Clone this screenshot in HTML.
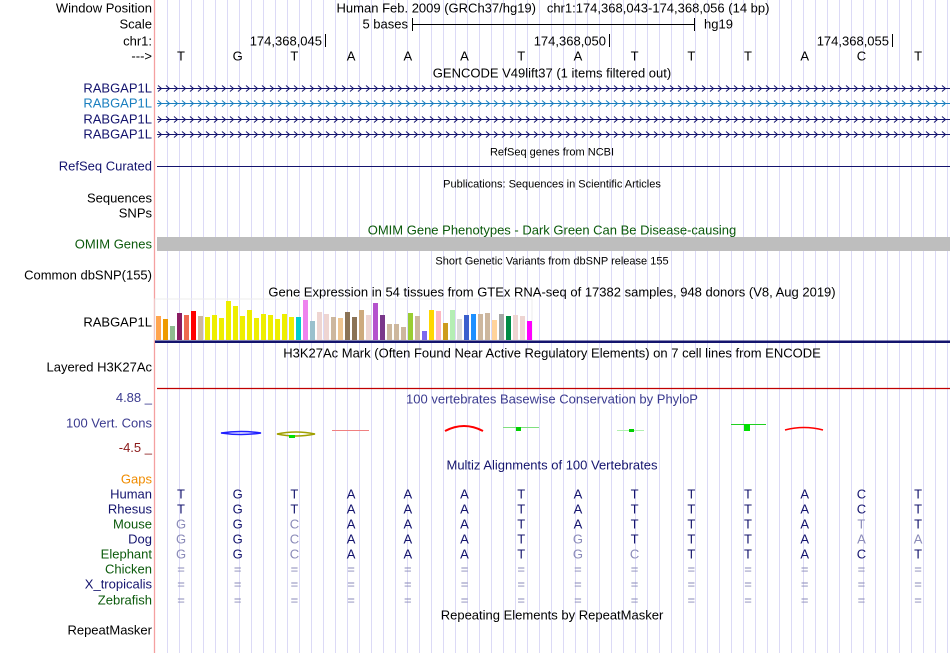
<!DOCTYPE html>
<html><head><meta charset="utf-8"><style>
body{margin:0;background:#fff;width:950px;height:653px;overflow:hidden;font-family:"Liberation Sans",sans-serif;}
svg{position:absolute;left:0;top:0}
</style></head><body>
<svg id="c" width="950" height="653" xmlns="http://www.w3.org/2000/svg" font-family="Liberation Sans, sans-serif" font-size="13">
<g id="grid"></g>
<line x1="154.5" y1="0" x2="154.5" y2="653" stroke="#f4a0a0" stroke-width="1.3"/>
<g id="labels" text-anchor="end"></g>
<g id="main"></g>
</svg>
<script>
const NS="http://www.w3.org/2000/svg";
function mk(tag,attrs,parent,txt){const e=document.createElementNS(NS,tag);for(const k in attrs)e.setAttribute(k,attrs[k]);if(txt!==undefined)e.textContent=txt;(parent||document.getElementById('main')).appendChild(e);return e;}
const grid=document.getElementById('grid');
for(let x=167;x<950;x+=12){mk('line',{x1:x+.5,y1:0,x2:x+.5,y2:653,stroke:'#dcdaf6','stroke-width':1},grid);}
const leftLabels=[["Window Position",8,"#000"],["Scale",24,"#000"],["chr1:",41,"#000"],["--->",56,"#000"],["RABGAP1L",88,"#14146e"],["RABGAP1L",103,"#1a7fbf"],["RABGAP1L",119,"#14146e"],["RABGAP1L",134,"#14146e"],["RefSeq Curated",166,"#14146e"],["Sequences",198,"#000"],["SNPs",213,"#000"],["OMIM Genes",244,"#0b5a0b"],["Common dbSNP(155)",275,"#000"],["RABGAP1L",322,"#000"],["Layered H3K27Ac",367,"#000"],["100 Vert. Cons",423,"#3b3b8f"],["Gaps",479,"#f08c00"],["Human",494,"#14146e"],["Rhesus",509,"#14146e"],["Mouse",524,"#0b5a0b"],["Dog",539,"#14146e"],["Elephant",554,"#0b5a0b"],["Chicken",569,"#0b5a0b"],["X_tropicalis",584,"#14146e"],["Zebrafish",600,"#0b5a0b"],["RepeatMasker",630,"#000"]];
const L=document.getElementById('labels');
leftLabels.forEach(([t,y,c])=>{const e=mk('text',{x:152,y:y+4.5,fill:c},L,t);});
mk('text',{x:152,y:402,fill:'#3b3b8f'},L,'4.88 _');
mk('text',{x:152,y:452,fill:'#8b1a1a'},L,'-4.5 _');
const titles=[["Human Feb. 2009 (GRCh37/hg19)\u00a0\u00a0\u00a0chr1:174,368,043-174,368,056 (14 bp)",553,8,"#000",13],["GENCODE V49lift37 (1 items filtered out)",552,73,"#000",13],["RefSeq genes from NCBI",552,151,"#000",11],["Publications: Sequences in Scientific Articles",552,183,"#000",11],["OMIM Gene Phenotypes - Dark Green Can Be Disease-causing",552,230,"#0b5a0b",13],["Short Genetic Variants from dbSNP release 155",552,260,"#000",11],["Gene Expression in 54 tissues from GTEx RNA-seq of 17382 samples, 948 donors (V8, Aug 2019)",552,292,"#000",13],["H3K27Ac Mark (Often Found Near Active Regulatory Elements) on 7 cell lines from ENCODE",552,353,"#000",13],["100 vertebrates Basewise Conservation by PhyloP",552,399,"#3b3b8f",13],["Multiz Alignments of 100 Vertebrates",552,465,"#14146e",13],["Repeating Elements by RepeatMasker",552,615,"#000",13]];
titles.forEach(([t,x,y,c,fs])=>{const e=mk('text',{x:x,y:y+4.5,fill:c,'text-anchor':'middle','font-size':fs},null,t);});
mk('text',{x:408,y:28.5,'text-anchor':'end'},null,'5 bases');
mk('line',{x1:412,y1:24.5,x2:694,y2:24.5,stroke:'#000'});
mk('line',{x1:412.5,y1:18,x2:412.5,y2:31,stroke:'#000'});
mk('line',{x1:694.5,y1:18,x2:694.5,y2:31,stroke:'#000'});
mk('text',{x:704,y:28.5},null,'hg19');
[[325,"174,368,045"],[609,"174,368,050"],[892,"174,368,055"]].forEach(([x,t])=>{mk('text',{x:x-3,y:45.5,'text-anchor':'end'},null,t);mk('line',{x1:x+.5,y1:34,x2:x+.5,y2:47,stroke:'#000'});});
const bases="TGTAAATATTTACT".split('');
const bx=i=>181+i*56.7;
bases.forEach((b,i)=>mk('text',{x:bx(i),y:60.5,'text-anchor':'middle'},null,b));
[[88,'#14146e'],[103,'#1a7fbf'],[119,'#14146e'],[134,'#14146e']].forEach(([y,c])=>{
 const g=mk('g',{});
 mk('line',{x1:157,y1:y+.5,x2:950,y2:y+.5,stroke:c},g);
 let d='';for(let x=158;x<948;x+=8){d+=`M${x} ${y-2.5} L${x+3.5} ${y+.5} L${x} ${y+3.5} `;}
 mk('path',{d:d,fill:'none',stroke:c,'stroke-width':1},g);
});
mk('line',{x1:157,y1:166.5,x2:950,y2:166.5,stroke:'#14146e'});
const omim=mk('rect',{x:157,y:237,width:793,height:14,fill:'#bebebe'});

const gtexValues=[24,21,14,27,25,29,24,23,25,22,39,34,24,30,22,26,25,21,26,23,23,40,19,28,26,23,22,28,23,30,25,37,25,16,16,13,27,24,9,30,29,17,30,21,25,26,26,27,20,26,24,25,24,19];
const gtexColors=["#FFA54F","#EE9A00","#8FBC8F","#8B1C62","#EE6A50","#FF0000","#CDB79E","#EEEE00","#EEEE00","#EEEE00","#EEEE00","#EEEE00","#EEEE00","#EEEE00","#EEEE00","#EEEE00","#EEEE00","#EEEE00","#EEEE00","#EEEE00","#00CDCD","#EE82EE","#9AC0CD","#EED5D2","#EED5D2","#CDB79E","#EEC591","#8B7355","#8B7355","#CDAA7D","#EED5D2","#B452CD","#7A378B","#CDB79E","#CDB79E","#CDB79E","#9ACD32","#CDB79E","#7B68EE","#FFD700","#FFB6C1","#CD9B1D","#B4EEB4","#D9D9D9","#3A5FCD","#1E90FF","#CDB79E","#CDB79E","#FFD39B","#A6A6A6","#008B45","#EED5D2","#EED5D2","#FF00FF"];
const gBase=340,gScale=1.0;
const gx=i=>156+i*7.0;
const gy=v=>gBase-v*gScale;
mk('rect',{x:155,y:299,width:377,height:41,fill:'none',stroke:'#eee'});
gtexValues.forEach((v,i)=>{const r=mk('rect',{x:gx(i),y:gy(v),width:5,height:gBase-gy(v),fill:gtexColors[i]});

});
mk('rect',{x:155,y:340.5,width:795,height:2.5,fill:'#14146e'});
mk('line',{x1:157,y1:388.5,x2:950,y2:388.5,stroke:'#c00000','stroke-width':1.2});
mk('path',{d:'M221 433 Q241 430 261 433 Q241 436 221 433Z',fill:'none',stroke:'#2020ff','stroke-width':1.5});
mk('path',{d:'M277 434 Q296 430 315 434 Q296 438 277 434Z',fill:'none',stroke:'#a0a000','stroke-width':1.5});
mk('rect',{x:289,y:435,width:6,height:3,fill:'#00e000'});
mk('line',{x1:332,y1:430.5,x2:369,y2:430.5,stroke:'#f08080'});
mk('path',{d:'M445 431 Q464 421 483 431',fill:'none',stroke:'#ff0000','stroke-width':2});
mk('line',{x1:503,y1:427.5,x2:539,y2:427.5,stroke:'#7fe07f'});
mk('rect',{x:516,y:427,width:5,height:4,fill:'#00d000'});
mk('line',{x1:617,y1:430.5,x2:644,y2:430.5,stroke:'#b0f0b0'});
mk('rect',{x:629,y:429,width:5,height:3,fill:'#00d000'});
mk('line',{x1:731,y1:424.5,x2:766,y2:424.5,stroke:'#20d020'});
mk('rect',{x:744,y:424,width:6,height:7,fill:'#00e000'});
mk('path',{d:'M785 430 Q804 425 823 430',fill:'none',stroke:'#ff0000','stroke-width':1.5});
const alnRows=[["TGTAAATATTTACT",494],["TGTAAATATTTACT",509],["GGCAAATATTTATT",524],["GGCAAATGTTTAAA",539],["GGCAAATGCTTACT",554]];
alnRows.forEach(([s,y])=>{s.split('').forEach((b,i)=>{const c=(b===bases[i])?'#14146e':'#8a8ab8';mk('text',{x:bx(i),y:y+4.5,'text-anchor':'middle',fill:c},null,b);});});
[569,584,600].forEach(y=>bases.forEach((b,i)=>mk('text',{x:bx(i),y:y+4.5,'text-anchor':'middle',fill:'#8a8ab8'},null,'=')));
</script>
</body></html>
